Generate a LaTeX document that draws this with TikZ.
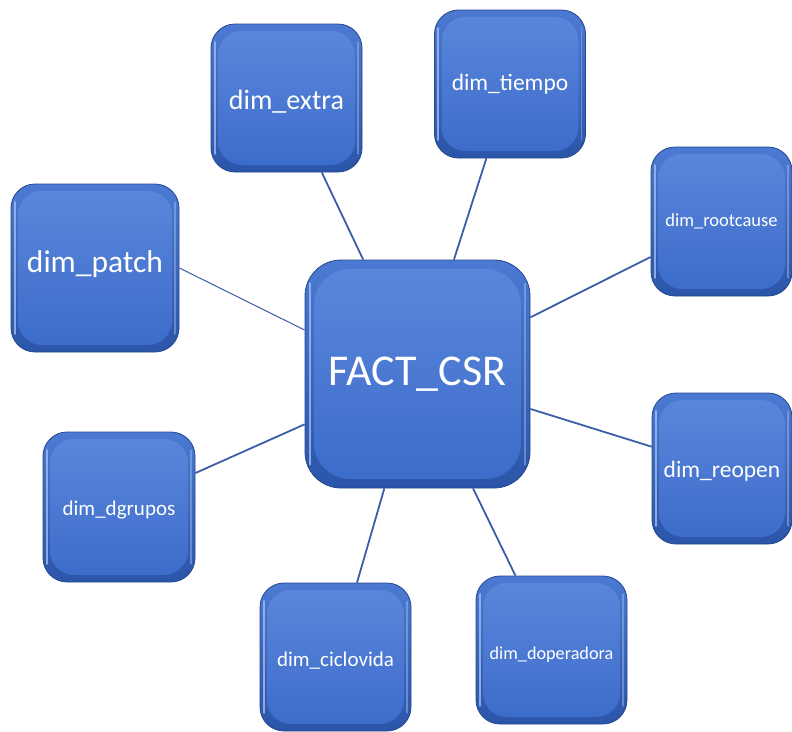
\documentclass[tikz,border=0pt]{standalone}
\usepackage{fontspec}
\setmainfont{Carlito}
\definecolor{rimtop}{HTML}{4C79D2}
\definecolor{rimbot}{HTML}{2B55A8}
\definecolor{facetop}{HTML}{5C87DA}
\definecolor{facebot}{HTML}{3B6BCA}
\definecolor{hilite}{HTML}{A9C4F3}
\definecolor{linkblue}{HTML}{3B5EA8}
\tikzset{
  x=1pt, y=-1pt,
  bevel/.store in=\bevelw, bevel=7pt,
  tilebox/.style={
    rounded corners=#1, draw=rimbot!85!black, line width=0.8pt,
    top color=rimtop, bottom color=rimbot, text=white, inner sep=0pt,
    path picture={
      % raised face of the tile
      \shade[top color=facetop, bottom color=facebot, rounded corners=#1]
        ([shift={(\bevelw,-\bevelw)}]path picture bounding box.north west)
        rectangle ([shift={(-\bevelw,\bevelw)}]path picture bounding box.south east);
      % light edge on the left and right rims
      \draw[hilite, line width=2.2pt, opacity=0.75, line cap=round]
        ([shift={(0.55*\bevelw,-2.6*\bevelw)}]path picture bounding box.north west)
        -- ([shift={(0.55*\bevelw,2.6*\bevelw)}]path picture bounding box.south west);
      \draw[hilite, line width=1.6pt, opacity=0.45, line cap=round]
        ([shift={(-0.55*\bevelw,-2.6*\bevelw)}]path picture bounding box.north east)
        -- ([shift={(-0.55*\bevelw,2.6*\bevelw)}]path picture bounding box.south east);
    }},
  tile/.style={tilebox=24pt, minimum width=151pt, minimum height=148pt},
  link/.style={draw=linkblue, line width=1.8pt},
}
\begin{document}
\begin{tikzpicture}
\useasboundingbox (0,0) rectangle (792,731);

\node[tilebox=36pt, bevel=9pt, minimum width=225pt, minimum height=228pt,
      font=\fontsize{44}{48}\selectfont] (fact) at (417.5,374) {FACT\_CSR};

\node[tile, font=\fontsize{28}{32}\selectfont, text height=26pt] (extra) at (286.5,98) {dim\_extra};
\node[tile, font=\fontsize{23.5}{28}\selectfont] (tiempo) at (510,84) {dim\_tiempo};
\node[tile, minimum width=141pt, minimum height=149pt,
      font=\fontsize{18.5}{22}\selectfont] (rootcause) at (721.5,221.5) {dim\_rootcause};
\node[tile, minimum width=168pt, minimum height=168pt,
      font=\fontsize{31.5}{36}\selectfont, text depth=12pt] (patch) at (95,268) {dim\_patch};
\node[tile, minimum width=152pt, minimum height=150pt,
      font=\fontsize{21}{25}\selectfont, text height=21pt] (dgrupos) at (119,507) {dim\_dgrupos};
\node[tile, font=\fontsize{21}{25}\selectfont, text height=22.5pt] (ciclovida) at (335.5,657) {dim\_ciclovida};
\node[tile, font=\fontsize{18.2}{22}\selectfont, text height=21pt] (doperadora) at (551.5,650) {dim\_doperadora};
\node[tile, minimum width=140pt, minimum height=151pt,
      font=\fontsize{23.5}{28}\selectfont, text height=22.5pt] (reopen) at (722,468.5) {dim\_reopen};

\draw[link] (fact) -- (extra);
\draw[link] (fact) -- (tiempo);
\draw[link] (fact) -- (rootcause);
\draw[link, line width=1pt] (patch.east) -- ([yshift=44pt]fact.west);
\draw[link] (fact) -- (dgrupos);
\draw[link] (fact) -- (ciclovida);
\draw[link] (fact) -- (doperadora);
\draw[link] (fact) -- (reopen);
\end{tikzpicture}
\end{document}
